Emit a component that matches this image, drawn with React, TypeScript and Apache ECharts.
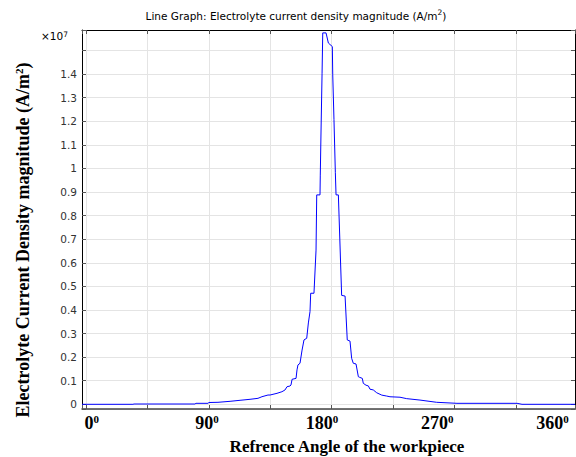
import React, { useEffect, useRef } from "react";
import * as echarts from "echarts";

// Reference angle of the workpiece (degrees)
const angleDeg = [
  0, 37.2, 38.0, 82.5, 83.2, 92.0, 92.7, 99.3, 108.1, 115.4, 122.7, 128.5, 131.4, 135.8, 137.3,
  142.4, 146.0, 148.2, 149.7, 151.9, 152.6, 153.4, 156.3, 157.0, 157.7, 159.2, 160.7, 162.1,
  164.1, 165.3, 166.5, 167.0, 169.4, 170.9, 171.4, 173.8, 174.0, 174.5, 175.3, 175.8, 178.2,
  179.9, 182.8, 183.1, 184.0, 185.0, 185.5, 187.2, 189.6, 192.1, 193.7, 195.7, 196.9, 198.1,
  200.1, 201.8, 202.5, 204.7, 205.4, 207.4, 209.1, 210.3, 212.7, 215.2, 218.9, 222.5, 224.9,
  232.2, 237.1, 246.8, 259.0, 273.8, 317.7, 321.3, 360,
];

// Electrolyte current density magnitude (x 1e7 A/m^2)
const currentDensityE7 = [
  0, 0, 0.0013, 0.0013, 0.0042, 0.0042, 0.0076, 0.0085, 0.0127, 0.017, 0.0212, 0.0254, 0.0322, 0.0394, 0.0394,
  0.0466, 0.0534, 0.0606, 0.0746, 0.0776, 0.0818, 0.106, 0.11, 0.146, 0.167, 0.174, 0.23, 0.273,
  0.28, 0.345, 0.393, 0.471, 0.471, 0.654, 0.888, 0.888, 0.972, 1.142, 1.404, 1.575, 1.575,
  1.532, 1.517, 1.397, 1.207, 0.982, 0.888, 0.888, 0.462, 0.459, 0.273, 0.268, 0.195, 0.174,
  0.171, 0.117, 0.115, 0.11, 0.089, 0.081, 0.078, 0.064, 0.061, 0.049, 0.039, 0.035, 0.032,
  0.03, 0.024, 0.018, 0.0085, 0.0042, 0.0042, 0, 0,
];

// Angle tick labels shown under the axis
const angleTickLabels = [0, 90, 180, 270, 360];

const chartTitle = "Line Graph: Electrolyte current density magnitude (A/m";
const xTitle = "Refrence Angle of the workpiece";
const yTitle = "Electrolyte Current Density magnitude (A/m";

export default function App() {
  const ref = useRef<HTMLDivElement>(null);

  useEffect(() => {
    const chart = echarts.init(ref.current!, null, { renderer: "svg" });
    const data = angleDeg.map((a, i) => [a, currentDensityE7[i]]);
    const gridColor = "#e4e4e4";
    const tickColor = "#555";
    const arcMin = -0.0651;
    const arcMax = 7.964;
    const yMin = -0.0199;
    const yMax = 1.5873;

    const arcAxisBase = {
      type: "value",
      gridIndex: 0,
      min: arcMin,
      max: arcMax,
      splitNumber: 8,
      minInterval: 1,
      maxInterval: 1,
      axisLabel: { show: false },
      axisTick: { show: true, inside: true, length: 4, lineStyle: { color: tickColor, width: 1 } },
    };

    const yAxisBase = {
      type: "value",
      gridIndex: 0,
      min: yMin,
      max: yMax,
      splitNumber: 16,
      minInterval: 0.1,
      maxInterval: 0.1,
      axisTick: { show: true, inside: true, length: 4, lineStyle: { color: tickColor, width: 1 } },
      axisLine: { show: true, onZero: false, lineStyle: { color: "#000", width: 1 } },
    };

    chart.setOption({
      animation: false,
      backgroundColor: "#ffffff",
      grid: [
        { left: 82, right: 1, top: 30, bottom: 48 },
        { left: 91.7, right: 23.5, top: 30, bottom: 48 },
      ],
      xAxis: [
        { type: "value", gridIndex: 0, min: 0, max: 360, show: false, position: "bottom", axisLine: { onZero: false } },
        {
          ...arcAxisBase,
          position: "top",
          axisLine: { show: true, onZero: false, lineStyle: { color: "#000", width: 1 } },
          splitLine: { show: true, lineStyle: { color: gridColor, width: 1 } },
        },
        {
          ...arcAxisBase,
          position: "bottom",
          axisLine: { show: true, onZero: false, lineStyle: { color: "#444", width: 1.5 } },
          splitLine: { show: false },
        },
        {
          type: "value",
          gridIndex: 1,
          position: "bottom",
          min: 0,
          max: 360,
          interval: 90,
          axisLine: { show: false, onZero: false },
          axisTick: { show: false },
          splitLine: { show: false },
          axisLabel: {
            margin: 4,
            formatter: (v: number) => (angleTickLabels.includes(v) ? `{d|${v}}{s|0}` : ""),
            rich: {
              d: { fontFamily: "Liberation Serif", fontWeight: "bold", fontSize: 18, lineHeight: 20, color: "#000" },
              s: { fontFamily: "Liberation Serif", fontWeight: "bold", fontSize: 11, lineHeight: 8, verticalAlign: "top", color: "#000" },
            },
          },
        },
      ],
      yAxis: [
        {
          ...yAxisBase,
          position: "left",
          splitLine: { show: true, lineStyle: { color: gridColor, width: 1 } },
          axisLabel: {
            show: true,
            margin: 5,
            fontFamily: "DejaVu Sans",
            fontSize: 10.5,
            color: "#333",
            formatter: (v: number) => {
              const r = Math.round(v * 10) / 10;
              if (v < -0.001 || r > 1.45) return "";
              return String(r);
            },
          },
        },
        {
          ...yAxisBase,
          position: "right",
          splitLine: { show: false },
          axisLabel: { show: false },
        },
        { type: "value", gridIndex: 1, show: false, axisLine: { onZero: false } },
      ],
      series: [
        {
          type: "line",
          xAxisIndex: 0,
          yAxisIndex: 0,
          data,
          showSymbol: false,
          symbol: "none",
          lineStyle: { color: "#0000ff", width: 1 },
          itemStyle: { color: "#0000ff" },
        },
      ],
      graphic: [
        {
          type: "text",
          x: 296,
          y: 15.7,
          style: {
            text: `{a|${chartTitle}}{s|2}{a|)}`,
            align: "center",
            verticalAlign: "middle",
            textAlign: "center",
            textVerticalAlign: "middle",
            rich: {
              a: { fontFamily: "DejaVu Sans", fontSize: 10.5, lineHeight: 14, color: "#222" },
              s: { fontFamily: "DejaVu Sans", fontSize: 7.5, lineHeight: 10, verticalAlign: "top", color: "#222" },
            },
          },
        },
        {
          type: "text",
          x: 41,
          y: 30,
          style: {
            text: "{a|×10}{s|7}",
            align: "left",
            verticalAlign: "top",
            textAlign: "left",
            textVerticalAlign: "top",
            rich: {
              a: { fontFamily: "DejaVu Sans", fontSize: 10.5, lineHeight: 12, color: "#333" },
              s: { fontFamily: "DejaVu Sans", fontSize: 7.5, lineHeight: 4, verticalAlign: "top", color: "#333" },
            },
          },
        },
        {
          type: "text",
          x: 347,
          y: 446,
          style: {
            text: xTitle,
            align: "center",
            verticalAlign: "middle",
            textAlign: "center",
            textVerticalAlign: "middle",
            fontFamily: "Liberation Serif",
            fontWeight: "bold",
            fontSize: 17,
            fill: "#000",
          },
        },
        {
          type: "text",
          x: 23,
          y: 240,
          rotation: Math.PI / 2,
          style: {
            text: `{a|${yTitle}}{s|2}{a|)}`,
            align: "center",
            verticalAlign: "middle",
            textAlign: "center",
            textVerticalAlign: "middle",
            rich: {
              a: { fontFamily: "Liberation Serif", fontWeight: "bold", fontSize: 18, lineHeight: 20, color: "#000" },
              s: { fontFamily: "Liberation Serif", fontWeight: "bold", fontSize: 11, lineHeight: 9, verticalAlign: "top", color: "#000" },
            },
          },
        },
      ],
    });

    return () => chart.dispose();
  }, []);

  return (
    <div
      ref={ref}
      style={{ position: "fixed", left: 0, top: 0, width: 576, height: 457, background: "#fff" }}
    />
  );
}
